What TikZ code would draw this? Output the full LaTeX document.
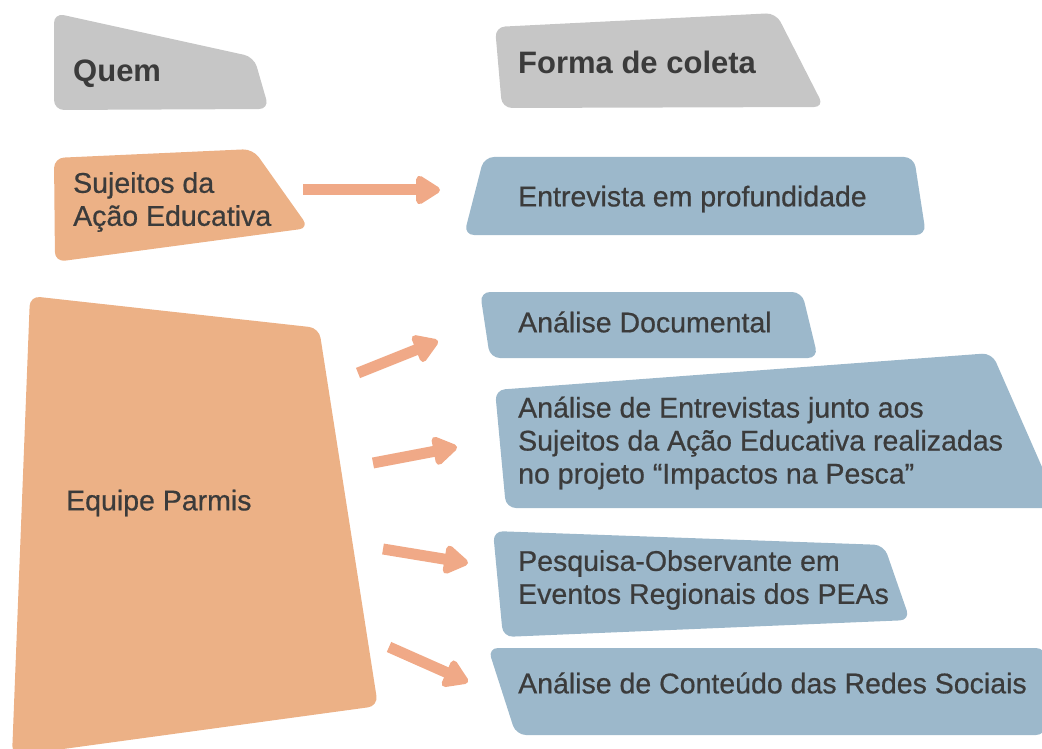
\documentclass[tikz,border=0pt]{standalone}
\usepackage{fontspec}
\setmainfont{Liberation Sans}
\newfontfamily\medio[FakeBold=0.6]{Liberation Sans}
\usetikzlibrary{arrows.meta}
\definecolor{cinza}{HTML}{C6C6C6}
\definecolor{laranja}{HTML}{ECB186}
\definecolor{azul}{HTML}{9CB8CB}
\definecolor{salmao}{HTML}{F0A987}
\definecolor{texto}{HTML}{3B3B3B}
\begin{document}
\begin{tikzpicture}[x=1pt, y=-1pt]
\tikzset{caixa/.style={rounded corners=10pt},
  rotulo/.style={anchor=west, inner sep=0pt, align=left, text=texto, font=\medio\fontsize{28.5}{33}\selectfont},
  titulo/.style={rotulo, font=\rmfamily\fontsize{31}{36}\selectfont\bfseries},
  seta/.style={draw=salmao, line width=11pt, -{Triangle[length=27pt, width=32pt, round]}}}
\useasboundingbox (0,0) rectangle (1042,749);
\clip (0,0) rectangle (1042,749);
\fill[cinza, caixa] (54,13) -- (254,57) -- (269,109) -- (54,110) -- cycle;
\fill[cinza, caixa] (495,27) -- (776,13) -- (824,107) -- (502,108) -- cycle;
\fill[laranja, caixa] (54,158) -- (253,149) -- (309,228) -- (55,262) -- cycle;
\fill[laranja, caixa] (30,296) -- (319,328) -- (378,706) -- (12,756) -- cycle;
\fill[azul, caixa] (484,157) -- (914,157) -- (926,235) -- (464,235) -- cycle;
\fill[azul, caixa] (480,292) -- (802,292) -- (818,358) -- (490,358) -- cycle;
\fill[azul, caixa] (495,390) -- (992,353) -- (1060,508) -- (506,508) -- cycle;
\fill[azul, caixa] (493,531) -- (884,545) -- (910,620) -- (503,637) -- cycle;
\fill[azul, caixa] (488,648) -- (1046,648) -- (1046,735) -- (516,735) -- cycle;
\node[titulo] (quem) at (73,74) {Quem};
\node[titulo] (forma) at (518,62) {Forma de coleta};
\node[rotulo] (sujeitos) at (73,202) {Sujeitos da\\Ação Educativa};
\node[rotulo] (equipe) at (66,503) {Equipe Parmis};
\node[rotulo] (entrevista) at (518,199) {Entrevista em profundidade};
\node[rotulo] (documental) at (518,322) {Análise Documental};
\node[rotulo] (entrevistas) at (518,443) {Análise de Entrevistas junto aos\\Sujeitos da Ação Educativa realizadas\\no projeto “Impactos na Pesca”};
\node[rotulo] (pesquisa) at (518,580) {Pesquisa-Observante em\\Eventos Regionais dos PEAs};
\node[rotulo] (conteudo) at (518,683) {Análise de Conteúdo das Redes Sociais};
\coordinate (s1) at (303,190);
\coordinate (p1) at (440,190);
\coordinate (s2) at (358,373);
\coordinate (p2) at (438,341);
\coordinate (s3) at (373,463);
\coordinate (p3) at (457,447);
\coordinate (s4) at (383,549);
\coordinate (p4) at (468,563);
\coordinate (s5) at (389,647);
\coordinate (p5) at (468,682);
\draw[seta] (s1) -- (p1);
\draw[seta] (s2) -- (p2);
\draw[seta] (s3) -- (p3);
\draw[seta] (s4) -- (p4);
\draw[seta] (s5) -- (p5);
\end{tikzpicture}
\end{document}
